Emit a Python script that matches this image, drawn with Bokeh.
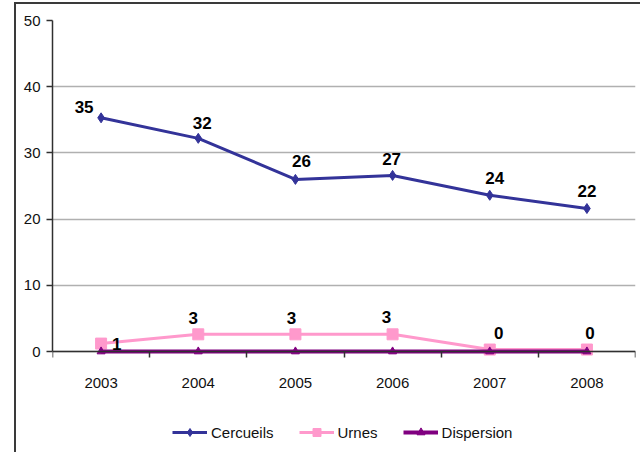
from bokeh.plotting import figure
from bokeh.models import ColumnDataSource, FixedTicker, Legend, LegendItem
from bokeh.core.properties import value
from bokeh.embed import file_html
from bokeh.resources import INLINE

# ---- data ----
years = [2003, 2004, 2005, 2006, 2007, 2008]
cercueils = [35.3, 32.2, 26.0, 26.6, 23.6, 21.6]
cercueils_labels = ["35", "32", "26", "27", "24", "22"]
urnes = [1.2, 2.6, 2.6, 2.6, 0.3, 0.3]
urnes_labels = ["1", "3", "3", "3", "0", "0"]
dispersion = [0, 0, 0, 0, 0, 0]
y_ticks = [0, 10, 20, 30, 40, 50]

# ---- style ----
C_CER = "#333399"
C_URN = "#FF99CC"
C_DIS = "#800080"
FONT = "Liberation Sans"
cer_dx = [-17, 4, 6, -1, 5, 0]
cer_dy = [-5, -9, -12, -10, -11, -12]
urn_dx = [11, -5, -4, -6, 9, 3]
urn_dy = [0, -10, -10, -11, -11, -11]
urn_base = ["middle", "bottom", "bottom", "bottom", "bottom", "bottom"]
urn_align = ["left", "center", "center", "center", "center", "center"]

# frame extends below the value axis to hold the category labels and the legend
Y_BOTTOM = -15.1

p = figure(width=626, height=450, output_backend="svg", toolbar_location=None,
           x_range=(2002.5, 2008.5), y_range=(Y_BOTTOM, 50),
           min_border_left=36, min_border_top=16, min_border_right=7,
           min_border_bottom=3)
p.styles = {"border-left": "2px solid #3a3a3a", "border-top": "2px solid #3a3a3a",
            "margin-left": "14px", "margin-top": "2px"}
p.outline_line_color = None
p.background_fill_color = "white"
p.border_fill_color = "white"

p.xgrid.grid_line_color = None
p.ygrid.grid_line_color = "#b0b0b0"
p.ygrid.grid_line_width = 1.5

p.xaxis.fixed_location = 0
p.xaxis.ticker = FixedTicker(ticks=years, minor_ticks=[y - 0.5 for y in years] + [years[-1] + 0.5])
p.xaxis.major_tick_out = 0
p.xaxis.major_tick_in = 0
p.xaxis.minor_tick_out = 6
p.xaxis.minor_tick_in = 0
p.xaxis.major_label_standoff = 20
p.yaxis.ticker = FixedTicker(ticks=y_ticks)
p.yaxis.bounds = (0, 50)
p.yaxis.minor_tick_line_color = None
p.yaxis.major_tick_out = 6
p.yaxis.major_tick_in = 0
p.yaxis.major_label_standoff = 6
for ax in (p.xaxis, p.yaxis):
    ax.axis_line_color = "#303030"
    ax.axis_line_width = 1.5
    ax.major_tick_line_color = "#303030"
    ax.minor_tick_line_color = "#303030"
    ax.major_tick_line_width = 1.5
    ax.minor_tick_line_width = 1.5
    ax.major_label_text_font = FONT
    ax.major_label_text_font_size = "15px"
    ax.major_label_text_color = "#111111"

src_c = ColumnDataSource(dict(x=years, y=cercueils, t=cercueils_labels, dx=cer_dx, dy=cer_dy))
src_u = ColumnDataSource(dict(x=years, y=urnes, t=urnes_labels, dx=urn_dx, dy=urn_dy,
                              base=urn_base, align=urn_align))
src_d = ColumnDataSource(dict(x=years, y=dispersion))

l_c = p.line("x", "y", source=src_c, line_color=C_CER, line_width=3)
m_c = p.scatter("x", "y", source=src_c, marker="diamond", size=10, color=C_CER)
l_u = p.line("x", "y", source=src_u, line_color=C_URN, line_width=3)
m_u = p.scatter("x", "y", source=src_u, marker="square", size=11, color=C_URN)
l_d = p.line("x", "y", source=src_d, line_color=C_DIS, line_width=4)
m_d = p.scatter("x", "y", source=src_d, marker="triangle", size=8, color=C_DIS)

p.text("x", "y", text="t", source=src_c, x_offset="dx", y_offset="dy",
       text_font=value(FONT), text_font_style="bold", text_font_size="17px",
       text_align="center", text_baseline="bottom", text_color="black")
p.text("x", "y", text="t", source=src_u, x_offset="dx", y_offset="dy",
       text_font=value(FONT), text_font_style="bold", text_font_size="17px",
       text_align="align", text_baseline="base", text_color="black")

legend = Legend(items=[LegendItem(label="Cercueils", renderers=[l_c, m_c]),
                       LegendItem(label="Urnes", renderers=[l_u, m_u]),
                       LegendItem(label="Dispersion", renderers=[l_d, m_d])],
                location=(120, 9), orientation="horizontal",
                glyph_width=35, glyph_height=20, label_standoff=4, spacing=25,
                padding=0, margin=0, border_line_color=None,
                background_fill_alpha=0,
                label_text_font=FONT, label_text_font_size="15px",
                label_text_color="#111111")
p.add_layout(legend, "center")

open("out.html", "w").write(file_html(p, INLINE))
